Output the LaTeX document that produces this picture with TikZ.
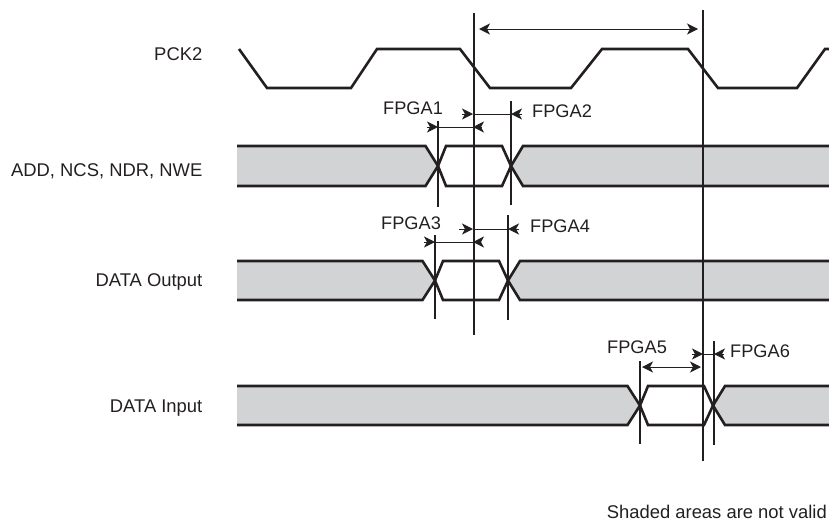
\documentclass[tikz,border=0pt]{standalone}
\usepackage{fontspec}
\setmainfont{Liberation Sans}
\usetikzlibrary{arrows.meta}
\definecolor{fillgrey}{HTML}{D1D3D4}
\definecolor{ink}{HTML}{231F20}
\tikzset{
  x=1pt,y=-1pt,
  wave/.style={draw=ink,line width=2.6pt,line join=miter},
  guide/.style={draw=ink,line width=1.1pt},
  dim/.style={draw=ink,line width=1pt},
  headtip/.tip={Stealth[length=11pt,width=11pt,inset=3pt]},
  tipped/.style={dim,-headtip},
  lab/.style={font=\fontsize{18.2}{20}\selectfont,text=ink,inner sep=0pt,anchor=base west},
  rowlab/.style={font=\fontsize{18.4}{20}\selectfont,text=ink,inner sep=0pt,anchor=base east},
}
% #1 top, #2 bottom, #3 left crossing, #4 right crossing, #5 name
\newcommand{\validrow}[5]{%
  \pgfmathsetmacro{\mid}{(#1+#2)/2}%
  \coordinate (#5L) at (#3,\mid);
  \coordinate (#5R) at (#4,\mid);
  \fill[fillgrey] (237,#1) -- (#3-12.5,#1) -- (#5L) -- (#3-12.5,#2) -- (237,#2) -- cycle;
  \fill[fillgrey] (829,#1) -- (#4+12,#1) -- (#5R) -- (#4+12,#2) -- (829,#2) -- cycle;
  \draw[wave] (237,#1) -- (#3-12.5,#1) -- (#5L) -- (#3+8,#2) -- (#4-9,#2) -- (#5R) -- (#4+12,#1) -- (829,#1);
  \draw[wave] (237,#2) -- (#3-12.5,#2) -- (#5L) -- (#3+8,#1) -- (#4-9,#1) -- (#5R) -- (#4+12,#2) -- (829,#2);
}
% #1 left tail, #2 left tip, #3 right tip, #4 right tail, #5 y, #6 name
\newcommand{\dimpair}[6]{%
  \coordinate (#6a) at (#1,#5);
  \coordinate (#6b) at (#2,#5);
  \coordinate (#6c) at (#3,#5);
  \coordinate (#6d) at (#4,#5);
  \draw[dim] (#6b) -- (#6c);
  \draw[tipped] (#6a) -- (#6b);
  \draw[tipped] (#6d) -- (#6c);
}
\begin{document}
\begin{tikzpicture}
\useasboundingbox (0,0) rectangle (829,523);
% clock
\draw[wave] (239,49) -- (267,88) -- (351,88) -- (377,49) -- (460,49) -- (490,88) -- (571,88) -- (602,49) -- (688,49) -- (718,88) -- (797,88) -- (825,49) -- (829,49);
% rows
\validrow{146}{186}{438}{511}{ra}
\validrow{261}{300}{435}{508}{rb}
\validrow{386}{425}{640}{713}{rc}
% long guides
\coordinate (gAt) at (474,13); \coordinate (gAb) at (474,335);
\coordinate (gBt) at (703,10); \coordinate (gBb) at (703,461);
\draw[guide] (gAt) -- (gAb);
\draw[guide] (gBt) -- (gBb);
% short guides
\coordinate (s1t) at (438,121); \coordinate (s1b) at (438,207);
\coordinate (s2t) at (511,101); \coordinate (s2b) at (511,205);
\coordinate (s3t) at (435,235); \coordinate (s3b) at (435,319);
\coordinate (s4t) at (508,215); \coordinate (s4b) at (508,320);
\coordinate (s5t) at (640,361); \coordinate (s5b) at (640,444);
\coordinate (s6t) at (714,341); \coordinate (s6b) at (714,445);
\foreach \s in {s1,s2,s3,s4,s5,s6} \draw[guide] (\s t) -- (\s b);
% period arrow
\coordinate (pL) at (479,29); \coordinate (pR) at (698,29);
\draw[dim,headtip-headtip] (pL) -- (pR);
% dimension arrows
\dimpair{427}{438}{473}{482}{127}{dA}
\dimpair{462}{473}{511}{522}{114}{dB}
\dimpair{424}{435}{473}{480}{242}{dC}
\dimpair{459}{473}{508}{519}{229}{dD}
\coordinate (dEl) at (642,367); \coordinate (dEr) at (701,367);
\draw[dim,headtip-headtip] (dEl) -- (dEr);
\dimpair{692}{703}{714}{724}{354}{dF}
% labels
\node[rowlab] (lclk) at (202.5,60) {PCK2};
\node[rowlab] (lad) at (202.5,176) {ADD, NCS, NDR, NWE};
\node[rowlab] (lout) at (202.5,286) {DATA Output};
\node[rowlab] (lin) at (202.5,412) {DATA Input};
\node[lab] (f1) at (383,114) {FPGA1};
\node[lab] (f2) at (532,117) {FPGA2};
\node[lab] (f3) at (381,229) {FPGA3};
\node[lab] (f4) at (530,232) {FPGA4};
\node[lab] (f5) at (607,353) {FPGA5};
\node[lab] (f6) at (730,357) {FPGA6};
\node[rowlab] (note) at (827,518) {Shaded areas are not valid};
\end{tikzpicture}
\end{document}
